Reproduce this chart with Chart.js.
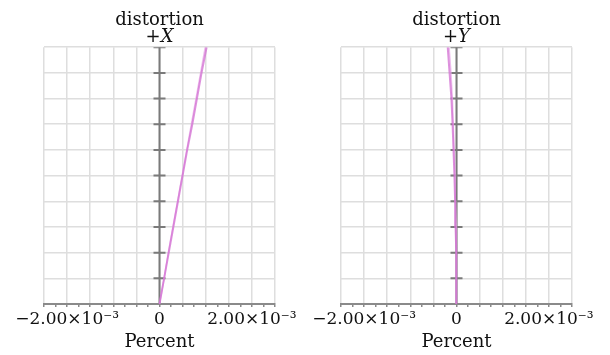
<!DOCTYPE html>
<html>
<head>
<meta charset="utf-8">
<script src="https://cdn.jsdelivr.net/npm/chart.js@4.4.1/dist/chart.umd.min.js"></script>
<style>
  html, body { margin: 0; padding: 0; background: #fff; }
  .plot { position: absolute; top: 0; width: 305px; height: 355px; }
  #leftPlot { left: 0; }
  #rightPlot { left: 305px; }
</style>
</head>
<body>
<div class="plot" id="leftPlot"><canvas id="distX"></canvas></div>
<div class="plot" id="rightPlot"><canvas id="distY"></canvas></div>
<script>
// relative field height (0 = on axis, 1 = full field)
const fieldHeights = [0, 0.1, 0.2, 0.3, 0.4, 0.5, 0.6, 0.7, 0.8, 0.9, 1.0];

// distortion in percent, two wavelengths per direction
const distortionX1 = [0, 0.10e-3, 0.20e-3, 0.30e-3, 0.40e-3, 0.50e-3, 0.60e-3, 0.71e-3, 0.81e-3, 0.91e-3, 1.02e-3];
const distortionX2 = [0, 0.10e-3, 0.19e-3, 0.29e-3, 0.39e-3, 0.49e-3, 0.59e-3, 0.69e-3, 0.79e-3, 0.89e-3, 0.99e-3];
const distortionY1 = [0, 0, -0.01e-3, -0.02e-3, -0.03e-3, -0.045e-3, -0.065e-3, -0.085e-3, -0.11e-3, -0.15e-3, -0.19e-3];
const distortionY2 = [0, 0, 0, -0.01e-3, -0.02e-3, -0.03e-3, -0.05e-3, -0.07e-3, -0.09e-3, -0.12e-3, -0.16e-3];

// centre axis and its tick marks
const axisHeights = [0, 1.0];
const axisTickHeights = [0.1, 0.2, 0.3, 0.4, 0.5, 0.6, 0.7, 0.8, 0.9, 1.0];

// x axis ticks
const xMin = -2.5e-3;
const xMax = 2.5e-3;
const xStep = 0.25e-3;
const xTickLabels = { "-8": "\u22122.00\u00d710\u207b\u00b3", "0": "0", "8": "2.00\u00d710\u207b\u00b3" };

const serif = "'DejaVu Serif', 'Liberation Serif', serif";

function points(values) {
  return values.map((v, i) => ({ x: v, y: fieldHeights[i] }));
}

function makeChart(canvasId, subtitle, series1, series2, padLeft, padRight) {
  const ctx = document.getElementById(canvasId).getContext("2d");
  return new Chart(ctx, {
    type: "scatter",
    data: {
      datasets: [
        {
          data: points(series1),
          showLine: true,
          borderColor: "rgba(210, 110, 210, 0.75)",
          borderWidth: 2,
          pointRadius: 0,
        },
        {
          data: points(series2),
          showLine: true,
          borderColor: "rgba(232, 170, 232, 0.75)",
          borderWidth: 1.5,
          pointRadius: 0,
        },
        {
          data: axisTickHeights.map((h) => ({ x: 0, y: h })),
          showLine: false,
          pointStyle: "line",
          pointRadius: 6,
          borderColor: "#7a7a7a",
          borderWidth: 2,
        },
        {
          data: axisHeights.map((h) => ({ x: 0, y: h })),
          showLine: true,
          borderColor: "#7a7a7a",
          borderWidth: 2,
          pointRadius: 0,
        },
      ],
    },
    options: {
      responsive: true,
      maintainAspectRatio: false,
      animation: false,
      layout: { padding: { left: padLeft, right: padRight, top: 0, bottom: 2 } },
      plugins: {
        legend: { display: false },
        tooltip: { enabled: false },
        title: {
          display: true,
          text: "distortion",
          fullSize: false,
          color: "#111",
          font: { family: serif, size: 18, weight: "normal", lineHeight: 1 },
          padding: { top: 11, bottom: 0 },
        },
        subtitle: {
          display: true,
          text: subtitle,
          fullSize: false,
          color: "#111",
          font: { family: serif, size: 18, style: "italic", lineHeight: 0.9 },
          padding: { top: 0, bottom: 2 },
        },
      },
      scales: {
        x: {
          type: "linear",
          min: xMin,
          max: xMax,
          afterBuildTicks: (axis) => {
            const ticks = [];
            for (let i = -10; i <= 10; i++) ticks.push({ value: i * xStep });
            axis.ticks = ticks;
          },
          ticks: {
            autoSkip: false,
            maxRotation: 0,
            padding: 2,
            color: "#111",
            font: { family: serif, size: 17 },
            callback: (v) => xTickLabels[String(Math.round(v / xStep))] || "",
          },
          grid: {
            color: (c) => (Math.round(c.tick.value / xStep) % 2 === 0 ? "#dedede" : "rgba(0,0,0,0)"),
            lineWidth: 1.5,
            tickColor: "#8a8a8a",
            tickLength: 3,
          },
          border: { display: true, color: "#8a8a8a", width: 2 },
          title: {
            display: true,
            text: "Percent",
            color: "#111",
            font: { family: serif, size: 18 },
            padding: { top: 0, bottom: 0 },
          },
        },
        y: {
          type: "linear",
          min: 0,
          max: 1,
          ticks: { display: false, stepSize: 0.1 },
          grid: { color: "#dedede", lineWidth: 1.5, drawTicks: false },
          border: { display: false },
        },
      },
    },
  });
}

makeChart("distX", "+X", distortionX1, distortionX2, 44, 30);
makeChart("distY", "+Y", distortionY1, distortionY2, 36, 38);
</script>
</body>
</html>
